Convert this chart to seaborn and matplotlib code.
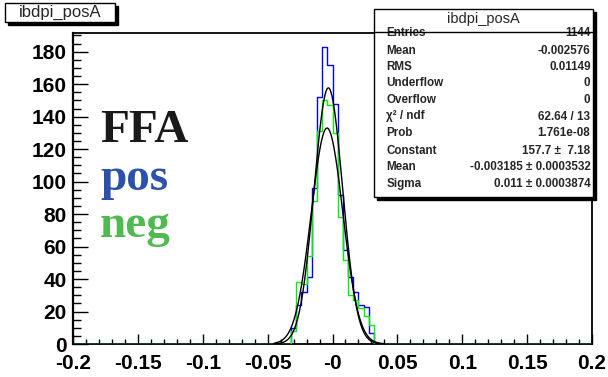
import numpy as np
import pandas as pd
import matplotlib
matplotlib.use("Agg")
import matplotlib.pyplot as plt
import seaborn as sns
from matplotlib.patches import Rectangle
from matplotlib.lines import Line2D
from matplotlib.ticker import MultipleLocator, FixedLocator

# ---------------- data ----------------
bin_width = 0.004
x_min, x_max = -0.2, 0.2
first_filled_edge = -0.032          # left edge of first non-empty bin
pos_counts = [10, 24, 32, 41, 96, 152, 183, 172, 148, 92, 58, 41, 32, 24, 23, 7]
neg_counts = [8, 38, 37, 54, 88, 131, 150, 147, 130, 78, 52, 30, 27, 22, 17, 12]

# gaussian fits (constant, mean, sigma)
pos_fit = (157.7, -0.003185, 0.011)
neg_fit = (133.0, -0.0042, 0.0122)
fit_range = (-0.045, 0.04)

x_tick_values = [-0.2, -0.15, -0.1, -0.05, 0.0, 0.05, 0.1, 0.15, 0.2]
x_tick_labels = ["-0.2", "-0.15", "-0.1", "-0.05", "-0", "0.05", "0.1", "0.15", "0.2"]
y_tick_values = [0, 20, 40, 60, 80, 100, 120, 140, 160, 180]

hist_title = "ibdpi_posA"
stats_labels = ["Entries", "Mean", "RMS", "Underflow", "Overflow",
                "χ² / ndf", "Prob", "Constant", "Mean", "Sigma"]
stats_values = ["1144", "-0.002576", "0.01149", "0", "0",
                "62.64 / 13", "1.761e-08", "157.7 ±  7.18",
                "-0.003185 ± 0.0003532", "0.011 ± 0.0003874"]
legend_words = ["FFA", "pos", "neg"]
legend_colors = ["#1a1a1a", "#2b52a8", "#4fba4f"]

# ---------------- figure ----------------
sns.set_theme(style="white")
plt.rcParams["font.family"] = ["Liberation Sans", "DejaVu Sans"]

W, H = 608, 377
fig = plt.figure(figsize=(W / 100, H / 100), dpi=100)
fig.patch.set_facecolor("white")


def fx(px):
    return px / W


def fy(py):
    return 1 - py / H


ax_l, ax_r, ax_t, ax_b = 73, 592, 33, 344
ax = fig.add_axes([fx(ax_l), fy(ax_b), (ax_r - ax_l) / W, (ax_b - ax_t) / H])
ax.set_facecolor("white")

edges = [round(x_min + i * bin_width, 6) for i in range(int(round((x_max - x_min) / bin_width)) + 1)]
centers = [e + bin_width / 2 for e in edges[:-1]]
start = int(round((first_filled_edge - x_min) / bin_width))


def full(counts):
    w = [0.0] * len(centers)
    w[start:start + len(counts)] = counts
    return w


pos_df = pd.DataFrame({"x": centers, "w": full(pos_counts)})
neg_df = pd.DataFrame({"x": centers, "w": full(neg_counts)})

sns.histplot(data=pos_df, x="x", weights="w", bins=edges, element="step",
             fill=False, color="#0000ff", linewidth=1.0, ax=ax, zorder=3)
sns.histplot(data=neg_df, x="x", weights="w", bins=edges, element="step",
             fill=False, color="#00f000", linewidth=1.0, ax=ax, zorder=4)

xs = np.linspace(fit_range[0], fit_range[1], 200)
for (c, m, s) in (pos_fit, neg_fit):
    fit_df = pd.DataFrame({"x": xs, "y": c * np.exp(-0.5 * ((xs - m) / s) ** 2)})
    sns.lineplot(data=fit_df, x="x", y="y", color="black", linewidth=1.0, ax=ax,
                 zorder=5)

ax.set_xlim(x_min, x_max)
ax.set_ylim(0, 191.5)
ax.set_xlabel("")
ax.set_ylabel("")

ax.xaxis.set_major_locator(FixedLocator(x_tick_values))
ax.set_xticklabels(x_tick_labels)
ax.xaxis.set_minor_locator(MultipleLocator(0.01))
ax.yaxis.set_major_locator(FixedLocator(y_tick_values))
ax.yaxis.set_minor_locator(MultipleLocator(5))

ax.tick_params(axis="x", which="major", direction="in", length=7.5, width=1,
               color="black", labelsize=15, pad=7, bottom=True, top=False)
ax.tick_params(axis="x", which="minor", direction="in", length=3.6, width=1,
               color="black", bottom=True, top=False)
ax.tick_params(axis="y", which="major", direction="in", length=10.8, width=1,
               color="black", labelsize=15, pad=4.5, left=True, right=False)
ax.tick_params(axis="y", which="minor", direction="in", length=5.4, width=1,
               color="black", left=True, right=False)
for lab in ax.get_xticklabels() + ax.get_yticklabels():
    lab.set_fontweight("bold")
    lab.set_color("black")

for side in ["left", "bottom", "top", "right"]:
    ax.spines[side].set_visible(True)
    ax.spines[side].set_color("black")
    ax.spines[side].set_linewidth(1.3)
ax.spines["left"].set_linewidth(1.6)

# ---------------- legend words ----------------
for word, col, base in zip(legend_words, legend_colors, [141.7, 190, 236.7]):
    fig.text(fx(100), fy(base), word, family=["Liberation Serif"], fontweight="bold",
             fontsize=34, color=col, va="baseline", ha="left")


# ---------------- boxes ----------------
def shadow_box(x0, y0, x1, y1, off=3.3):
    fig.add_artist(Rectangle((fx(x0 + off), fy(y1 + off)), (x1 - x0) / W, (y1 - y0) / H,
                             transform=fig.transFigure, facecolor="black",
                             edgecolor="black", zorder=10))
    fig.add_artist(Rectangle((fx(x0), fy(y1)), (x1 - x0) / W, (y1 - y0) / H,
                             transform=fig.transFigure, facecolor="white",
                             edgecolor="black", linewidth=1.0, zorder=11))


# title box
shadow_box(5, 3.3, 115, 21.7, off=3)
fig.text(fx(60), fy(12.8), hist_title, ha="center", va="center", fontsize=12,
         zorder=12)

# stats box
sx0, sy0, sx1, sy1 = 374, 9, 592.7, 196.7
shadow_box(sx0, sy0, sx1, sy1)
fig.text(fx((sx0 + sx1) / 2), fy(18.5), hist_title, ha="center", va="center",
         fontsize=10.5, zorder=12)
fig.add_artist(Line2D([fx(sx0), fx(sx1)], [fy(31.7), fy(31.7)], transform=fig.transFigure,
                      color="black", linewidth=1.0, zorder=13))
row_y = [33, 51, 67, 83.5, 100, 116.5, 133, 151, 167, 184]
for lab, val, y in zip(stats_labels, stats_values, row_y):
    fig.text(fx(386.5), fy(y), lab, ha="left", va="center", fontsize=8.4,
             fontweight="bold", zorder=12)
    fig.text(fx(590.5), fy(y), val, ha="right", va="center", fontsize=8.4,
             fontweight="bold", zorder=12)

fig.savefig("out.png", dpi=100, facecolor="white")
